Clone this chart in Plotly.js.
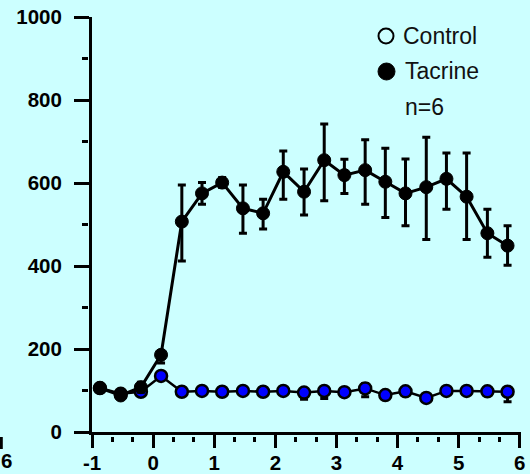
<!DOCTYPE html>
<html>
<head>
<meta charset="utf-8">
<script src="https://cdn.plot.ly/plotly-3.0.1.min.js"></script>
<style>html,body{margin:0;padding:0;background:#CCFFFF;}#chart{width:530px;height:474px;}</style>
</head>
<body>
<div id="chart"></div>
<script>
// ---- data (time in hours) ----
var time = [-0.87, -0.53, -0.2, 0.13, 0.47, 0.8, 1.13, 1.47, 1.8, 2.13, 2.47, 2.8, 3.13, 3.47, 3.8, 4.13, 4.47, 4.8, 5.13, 5.47, 5.8];

var control = [106, 92, 97, 135, 97, 99, 97, 99, 97, 99, 95, 99, 96, 105, 89, 98, 82, 99, 99, 98, 97];
var controlErrPlus  = [8, 6, 6, 8, 5, 5, 5, 5, 5, 5, 5, 6, 4, 12, 5, 6, 6, 5, 5, 5, 6];
var controlErrMinus = [8, 6, 6, 8, 5, 5, 5, 5, 5, 5, 16, 18, 4, 20, 6, 6, 8, 5, 5, 5, 24];

var tacrine = [106, 88, 108, 186, 507, 575, 601, 539, 527, 627, 579, 655, 619, 631, 603, 575, 590, 610, 567, 479, 449];
var tacrineErrPlus  = [6, 6, 12, 8, 88, 26, 12, 56, 34, 50, 55, 87, 38, 73, 81, 83, 120, 62, 105, 58, 48];
var tacrineErrMinus = [6, 6, 12, 20, 95, 26, 12, 60, 38, 66, 56, 98, 44, 82, 86, 78, 126, 73, 103, 58, 47];

var xTickVals = [-1, 0, 1, 2, 3, 4, 5, 6];
var xTickText = ['-1', '0', '1', '2', '3', '4', '5', '6'];
var yTickVals = [0, 200, 400, 600, 800, 1000];
var yTickText = ['0', '200', '400', '600', '800', '1000'];
var yMinorVals = [100, 300, 500, 700, 900];
var legendLabels = ['Control', 'Tacrine', 'n=6'];

// ---- layout geometry ----
var W = 530, H = 474;
var M = {l: 70, r: 9, t: 17, b: 30};
var PW = W - M.l - M.r, PH = H - M.t - M.b;
function px2x(px) { return (px - M.l) / PW; }
function py2y(py) { return (H - M.b - py) / PH; }

var xMinorVals = [];
for (var k = -1; k < 6; k++) { xMinorVals.push(k + 1/3); xMinorVals.push(k + 2/3); }

var tickFont = {family: 'Liberation Sans, Arial, sans-serif', size: 20.5, color: '#000', weight: 'bold'};
var legFont = {family: 'Liberation Sans, Arial, sans-serif', size: 23, color: '#111'};

var traces = [
  {
    x: time, y: control, type: 'scatter', mode: 'lines+markers', name: legendLabels[0],
    line: {color: '#000', width: 2.5},
    marker: {color: '#0000FF', size: 12, line: {color: '#000', width: 2.5}},
    error_y: {type: 'data', array: controlErrPlus, arrayminus: controlErrMinus, symmetric: false,
              color: '#000', thickness: 3, width: 4},
    showlegend: false, hoverinfo: 'skip'
  },
  {
    x: time, y: tacrine, type: 'scatter', mode: 'lines+markers', name: legendLabels[1],
    line: {color: '#000', width: 3},
    marker: {color: '#000', size: 13, line: {color: '#000', width: 1}},
    error_y: {type: 'data', array: tacrineErrPlus, arrayminus: tacrineErrMinus, symmetric: false,
              color: '#000', thickness: 3, width: 4},
    showlegend: false, hoverinfo: 'skip'
  },
  { x: [], y: [], type: 'scatter', xaxis: 'x2', yaxis: 'y2', showlegend: false, hoverinfo: 'skip' }
];

var xDomain = [px2x(92), 1];
var yDomain = [py2y(432), 1];

var layout = {
  width: W, height: H,
  margin: M,
  paper_bgcolor: '#CCFFFF', plot_bgcolor: '#CCFFFF',
  showlegend: false,
  xaxis: {
    domain: xDomain, range: [-1, 6.02], anchor: 'y',
    showgrid: false, zeroline: false,
    showline: true, linecolor: '#000', linewidth: 3,
    ticks: 'outside', ticklen: 13, tickwidth: 3, tickcolor: '#000',
    tickmode: 'array', tickvals: xTickVals, ticktext: xTickText,
    tickfont: tickFont, ticklabelstandoff: -3
  },
  yaxis: {
    domain: yDomain, range: [0, 1000], anchor: 'x',
    showgrid: false, zeroline: false,
    showline: true, linecolor: '#000', linewidth: 3,
    ticks: 'outside', ticklen: 15, tickwidth: 3, tickcolor: '#000',
    tickmode: 'array', tickvals: yTickVals, ticktext: yTickText,
    tickfont: tickFont, ticklabelstandoff: 8
  },
  xaxis2: {
    overlaying: 'x', anchor: 'free', position: py2y(435.5), range: [-1, 6.02],
    showgrid: false, zeroline: false, showline: false, showticklabels: false,
    ticks: 'outside', ticklen: 5, tickwidth: 3, tickcolor: '#000',
    tickmode: 'array', tickvals: xMinorVals
  },
  yaxis2: {
    overlaying: 'y', anchor: 'free', position: px2x(87.5), side: 'left', range: [0, 1000],
    showgrid: false, zeroline: false, showline: false, showticklabels: false,
    ticks: 'outside', ticklen: 5.5, tickwidth: 3, tickcolor: '#000',
    tickmode: 'array', tickvals: yMinorVals
  },
  shapes: [
    {type: 'circle', xref: 'paper', yref: 'paper',
     x0: px2x(378.5), x1: px2x(393.5), y0: py2y(43.5), y1: py2y(28.5),
     line: {color: '#000', width: 2}, fillcolor: 'rgba(0,0,0,0)'},
    {type: 'circle', xref: 'paper', yref: 'paper',
     x0: px2x(378), x1: px2x(395), y0: py2y(80), y1: py2y(63),
     line: {color: '#000', width: 1}, fillcolor: '#000'},
    {type: 'line', xref: 'paper', yref: 'paper',
     x0: px2x(1.3), x1: px2x(1.3), y0: py2y(449), y1: py2y(437),
     line: {color: '#000', width: 3}}
  ],
  annotations: [
    {xref: 'paper', yref: 'paper', x: px2x(401), y: py2y(36), xanchor: 'left', yanchor: 'middle',
     text: legendLabels[0], showarrow: false, font: legFont},
    {xref: 'paper', yref: 'paper', x: px2x(403), y: py2y(70.5), xanchor: 'left', yanchor: 'middle',
     text: legendLabels[1], showarrow: false, font: legFont},
    {xref: 'paper', yref: 'paper', x: px2x(403), y: py2y(106.5), xanchor: 'left', yanchor: 'middle',
     text: legendLabels[2], showarrow: false, font: legFont},
    {xref: 'paper', yref: 'paper', x: px2x(6.5), y: py2y(460), xanchor: 'center', yanchor: 'middle',
     text: '6', showarrow: false, font: tickFont, borderpad: 0}
  ]
};

Plotly.newPlot('chart', traces, layout, {displayModeBar: false, staticPlot: true});
</script>
</body>
</html>
